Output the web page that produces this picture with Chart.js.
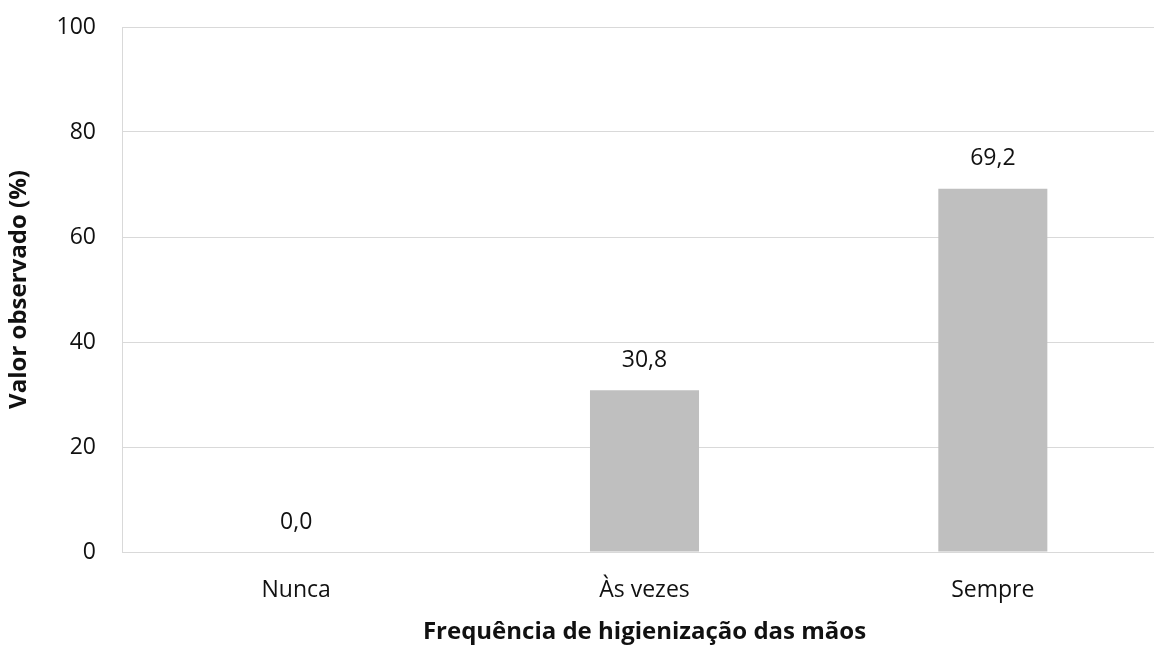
<!DOCTYPE html>
<html>
<head>
<meta charset="utf-8">
<script src="https://cdn.jsdelivr.net/npm/chart.js@4.4.1/dist/chart.umd.min.js"></script>
<style>
  html, body { margin: 0; padding: 0; overflow: hidden; background: #fff; }
  #wrap { width: 1167px; height: 648px; position: relative; }
</style>
</head>
<body>
<div id="wrap"><canvas id="barChart"></canvas></div>
<script>
const categories = ["Nunca", "Às vezes", "Sempre"];
const values = [0.0, 30.8, 69.2];
const yTicks = [0, 20, 40, 60, 80, 100];

const fontFamily = "'Open Sans', 'Noto Sans', sans-serif";

// simple value labels above the bars (no datalabels plugin available offline)
const valueLabels = {
  id: "valueLabels",
  afterDatasetsDraw(chart) {
    const ctx = chart.ctx;
    const meta = chart.getDatasetMeta(0);
    ctx.save();
    ctx.font = `23px ${fontFamily}`;
    ctx.fillStyle = "#111";
    ctx.textAlign = "center";
    ctx.textBaseline = "middle";
    meta.data.forEach((bar, i) => {
      const txt = values[i].toFixed(1).replace(".", ",");
      ctx.fillText(txt, bar.x, bar.y - 30);
    });
    ctx.restore();
  },
};

new Chart(document.getElementById("barChart"), {
  type: "bar",
  data: {
    labels: categories,
    datasets: [
      {
        data: values,
        backgroundColor: "#bfbfbf",
        borderWidth: 0,
        categoryPercentage: 1,
        barPercentage: 0.313,
      },
    ],
  },
  options: {
    responsive: true,
    maintainAspectRatio: false,
    animation: false,
    layout: { padding: { top: 27, right: 0, bottom: 0, left: 0 } },
    plugins: {
      legend: { display: false },
      tooltip: { enabled: false },
    },
    scales: {
      x: {
        offset: true,
        grid: { display: false, drawTicks: false },
        border: { display: true, color: "#d9d9d9", width: 1 },
        ticks: {
          padding: 25,
          color: "#111",
          font: { family: fontFamily, size: 23 },
        },
        title: {
          display: true,
          text: "Frequência de higienização das mãos",
          color: "#111",
          font: { family: fontFamily, size: 24, weight: "bold" },
          padding: { top: 4, bottom: 1 },
        },
        afterFit: (s) => {
          s.height = 96;
          s.paddingLeft = 0;
          s.paddingRight = 0;
        },
      },
      y: {
        min: 0,
        max: 100,
        afterBuildTicks: (s) => {
          s.ticks = yTicks.map((v) => ({ value: v }));
        },
        grid: { color: "#d9d9d9", drawTicks: false },
        border: { display: true, color: "#d9d9d9", width: 1 },
        ticks: {
          padding: 26,
          color: "#111",
          font: { family: fontFamily, size: 23 },
        },
        title: {
          display: true,
          text: "Valor observado (%)",
          color: "#111",
          font: { family: fontFamily, size: 24, weight: "bold" },
          padding: { top: 5, bottom: 0 },
        },
        afterFit: (s) => {
          s.width = 122;
          s.paddingTop = 0;
          s.paddingBottom = 0;
        },
      },
    },
  },
  plugins: [valueLabels],
});
</script>
</body>
</html>
